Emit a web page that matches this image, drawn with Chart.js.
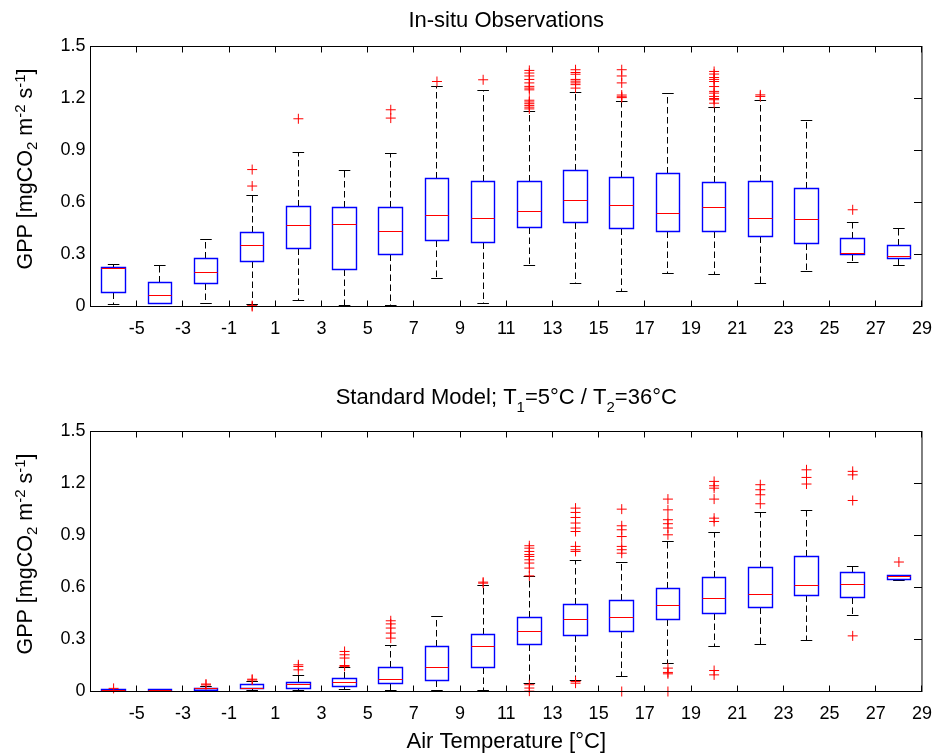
<!DOCTYPE html>
<html>
<head>
<meta charset="utf-8">
<title>GPP vs. air temperature — observations and standard model</title>
<script src="https://cdn.jsdelivr.net/npm/chart.js@4.4.1/dist/chart.umd.min.js"></script>
<style>
  html, body { margin: 0; padding: 0; background: #fff; }
  #wrap { position: relative; width: 944px; height: 755px; }
  canvas { position: absolute; left: 0; }
  #chartObs { top: 0; }
  #chartModel { top: 377px; }
</style>
</head>
<body>
<div id="wrap">
  <canvas id="chartObs" width="944" height="377"></canvas>
  <canvas id="chartModel" width="944" height="378"></canvas>
</div>
<script>
'use strict';

/* ── Data ───────────────────────────────────────────────────────── */
const temps  = [-6, -4, -2, 0, 2, 4, 6, 8, 10, 12, 14, 16, 18, 20, 22, 24, 26, 28];
const xTicks = [-5, -3, -1, 1, 3, 5, 7, 9, 11, 13, 15, 17, 19, 21, 23, 25, 27, 29];
const yTicks = [0, 0.3, 0.6, 0.9, 1.2, 1.5];

// In-situ observations
const obsLow    = [0.01, 0.018, 0.015, 0.01, 0.033, 0.003, 0.003, 0.162, 0.015, 0.239, 0.131, 0.089, 0.193, 0.187, 0.135, 0.2, 0.256, 0.237];
const obsQ1     = [0.083, 0.02, 0.135, 0.26, 0.337, 0.213, 0.302, 0.381, 0.371, 0.458, 0.485, 0.448, 0.433, 0.433, 0.406, 0.362, 0.302, 0.275];
const obsMedian = [0.22, 0.062, 0.198, 0.354, 0.467, 0.475, 0.433, 0.523, 0.51, 0.546, 0.614, 0.585, 0.537, 0.573, 0.51, 0.504, 0.308, 0.289];
const obsQ3     = [0.225, 0.14, 0.277, 0.429, 0.577, 0.573, 0.573, 0.741, 0.721, 0.721, 0.787, 0.747, 0.769, 0.717, 0.723, 0.683, 0.39, 0.352];
const obsHigh   = [0.24, 0.235, 0.385, 0.643, 0.89, 0.785, 0.885, 1.27, 1.245, 1.125, 1.235, 1.18, 1.231, 1.15, 1.187, 1.073, 0.485, 0.452];
const obsOutliers = [
  [], [], [], [0.79, 0.695, 0.005, 0], [1.083], [], [1.135, 1.087], [1.298], [1.308],
  [1.362, 1.347, 1.33, 1.31, 1.29, 1.27, 1.26, 1.25, 1.19, 1.18, 1.17, 1.16, 1.15, 1.14],
  [1.366, 1.35, 1.34, 1.31, 1.3, 1.29, 1.28, 1.26],
  [1.366, 1.33, 1.29, 1.22, 1.21, 1.205],
  [],
  [1.356, 1.341, 1.321, 1.31, 1.298, 1.269, 1.241, 1.231, 1.212, 1.2, 1.193, 1.173],
  [1.221, 1.212], [], [0.558], [],
];

// Standard model; T1 = 5 °C / T2 = 36 °C
const modLow    = [0, 0, 0.003, 0.005, 0.006, 0.01, 0.004, 0.004, 0.004, 0.048, 0.064, 0.087, 0.16, 0.258, 0.273, 0.296, 0.441, 0.639];
const modQ1     = [0.003, 0.003, 0.008, 0.016, 0.02, 0.029, 0.044, 0.062, 0.139, 0.273, 0.325, 0.344, 0.414, 0.452, 0.487, 0.556, 0.545, 0.649];
const modMedian = [0.006, 0.006, 0.015, 0.02, 0.039, 0.052, 0.071, 0.139, 0.258, 0.348, 0.414, 0.425, 0.494, 0.535, 0.562, 0.614, 0.62, 0.662];
const modQ3     = [0.01, 0.01, 0.02, 0.039, 0.052, 0.077, 0.139, 0.258, 0.331, 0.429, 0.504, 0.523, 0.597, 0.66, 0.718, 0.779, 0.689, 0.672];
const modHigh   = [0.014, 0.012, 0.03, 0.055, 0.09, 0.14, 0.268, 0.435, 0.612, 0.664, 0.758, 0.744, 0.868, 0.918, 1.035, 1.047, 0.721, 0.672];
const modOutliers = [
  [0.018], [], [0.043, 0.038], [0.071, 0.066], [0.154, 0.144, 0.125],
  [0.231, 0.212, 0.193, 0.15, 0.145],
  [0.408, 0.39, 0.366, 0.337, 0.308],
  [],
  [0.631, 0.625],
  [0.841, 0.827, 0.808, 0.79, 0.779, 0.76, 0.741, 0.712, 0.667, 0.039, 0.02, 0.002],
  [1.058, 1.033, 1.004, 0.972, 0.943, 0.923, 0.837, 0.818, 0.808, 0.058, 0.048],
  [1.052, 0.956, 0.933, 0.894, 0.837, 0.818, 0.798, 0],
  [1.11, 1.048, 0.991, 0.968, 0.943, 0.904, 0.135, 0.11, 0.102, 0],
  [1.212, 1.187, 1.173, 1.11, 1.0, 0.981, 0.121, 0.096],
  [1.193, 1.164, 1.135, 1.083],
  [1.279, 1.235, 1.197],
  [1.27, 1.25, 1.102, 0.321],
  [0.747],
];

/* ── Look ───────────────────────────────────────────────────────── */
const FONT = "'Liberation Sans', Arial, Helvetica, sans-serif";
const BOX_HALF = 0.51;  // x units
const CAP_HALF = 0.25;  // x units

Chart.defaults.font.family = FONT;
Chart.defaults.color = '#000';

function outlierPoints(lists) {
  return lists.flatMap((ys, i) => ys.map(y => ({ x: temps[i], y })));
}

// text with sub/superscripts: parts = [[text, level]], level -1 sub, 1 sup
function drawRich(ctx, parts, size, cx, baseY, drop, rise) {
  const small = Math.round(size * 0.68);
  const fontOf = lvl => `${lvl ? small : size}px ${FONT}`;
  let total = 0;
  parts.forEach(([t, lvl]) => { ctx.font = fontOf(lvl); total += ctx.measureText(t).width; });
  let xPos = cx - total / 2;
  ctx.textAlign = 'left';
  ctx.textBaseline = 'alphabetic';
  ctx.fillStyle = '#000';
  parts.forEach(([t, lvl]) => {
    ctx.font = fontOf(lvl);
    const dy = lvl < 0 ? drop : lvl > 0 ? -rise : 0;
    ctx.fillText(t, xPos, baseY + dy);
    xPos += ctx.measureText(t).width;
  });
}

/* ── Box plot drawn through the chart scales ────────────────────── */
const boxPlot = {
  id: 'boxPlot',
  beforeDatasetsDraw(chart, args, opts) {
    const { ctx, scales: { x, y } } = chart;
    const s = opts.stats;
    const snap = v => Math.floor(v) + 0.5;
    const px = temps.map(t => ({
      c: snap(x.getPixelForValue(t)),
      l: snap(x.getPixelForValue(t - BOX_HALF)),
      r: snap(x.getPixelForValue(t + BOX_HALF)),
      cl: x.getPixelForValue(t - CAP_HALF),
      cr: x.getPixelForValue(t + CAP_HALF),
    }));
    const py = key => s[key].map(v => snap(y.getPixelForValue(v)));
    const lo = py('low'), q1 = py('q1'), md = py('median'), q3 = py('q3'), hi = py('high');

    ctx.save();
    ctx.lineWidth = 1;

    // dashed whiskers
    ctx.strokeStyle = '#000';
    ctx.setLineDash([6.5, 3.5]);
    ctx.beginPath();
    px.forEach((p, i) => {
      ctx.moveTo(p.c, q3[i]); ctx.lineTo(p.c, hi[i]);
      ctx.moveTo(p.c, q1[i]); ctx.lineTo(p.c, lo[i]);
    });
    ctx.stroke();

    // whisker caps
    ctx.setLineDash([]);
    ctx.beginPath();
    px.forEach((p, i) => {
      ctx.moveTo(p.cl, hi[i]); ctx.lineTo(p.cr, hi[i]);
      ctx.moveTo(p.cl, lo[i]); ctx.lineTo(p.cr, lo[i]);
    });
    ctx.stroke();

    // boxes
    ctx.strokeStyle = '#0000ff';
    ctx.lineWidth = 1.4;
    ctx.beginPath();
    px.forEach((p, i) => ctx.rect(p.l, q3[i], p.r - p.l, q1[i] - q3[i]));
    ctx.stroke();

    // medians
    ctx.strokeStyle = '#ff0000';
    ctx.lineWidth = 1.2;
    ctx.beginPath();
    px.forEach((p, i) => { ctx.moveTo(p.l, md[i]); ctx.lineTo(p.r, md[i]); });
    ctx.stroke();
    ctx.restore();
  },
};

/* ── Axes box, inward ticks, titles ─────────────────────────────── */
const frame = {
  id: 'frame',
  afterDraw(chart, args, opts) {
    const { ctx, chartArea: a, scales: { x, y } } = chart;
    const snap = v => Math.floor(v) + 0.5;
    ctx.save();
    ctx.strokeStyle = '#000';
    ctx.lineWidth = 1;
    ctx.strokeRect(a.left, a.top, a.right - a.left, a.bottom - a.top);
    ctx.beginPath();
    xTicks.forEach(v => {
      const px = snap(x.getPixelForValue(v));
      ctx.moveTo(px, a.bottom); ctx.lineTo(px, a.bottom - 6);
      ctx.moveTo(px, a.top); ctx.lineTo(px, a.top + 6);
    });
    yTicks.forEach(v => {
      const py = snap(y.getPixelForValue(v));
      ctx.moveTo(a.right, py); ctx.lineTo(a.right - 8, py);
    });
    ctx.stroke();

    // title
    drawRich(ctx, opts.title, 22, (a.left + a.right) / 2, opts.titleBaseline, 8, 8);

    // y label, rotated
    ctx.translate(32, (a.top + a.bottom) / 2 - 7.5);
    ctx.rotate(-Math.PI / 2);
    drawRich(ctx, [
      ['GPP [mgCO', 0], ['2', -1], [' m', 0], ['-2', 1], [' s', 0], ['-1', 1], [']', 0],
    ], 21.5, 0, 0, 5, 7);
    ctx.restore();
  },
};

function makeChart(id, stats, outliers, opts) {
  return new Chart(document.getElementById(id), {
    type: 'scatter',
    data: {
      datasets: [{
        data: outlierPoints(outliers),
        pointStyle: 'cross',
        pointRadius: 5,
        pointHoverRadius: 5,
        borderColor: '#ff0000',
        backgroundColor: '#ff0000',
        borderWidth: 1,
        clip: false,
      }],
    },
    options: {
      responsive: false,
      animation: false,
      events: [],
      layout: { padding: { top: opts.top, right: 13.5, left: 0, bottom: 0 } },
      plugins: {
        legend: { display: false },
        tooltip: { enabled: false },
        boxPlot: { stats },
        frame: { title: opts.title, titleBaseline: opts.titleBaseline },
      },
      scales: {
        x: {
          type: 'linear',
          min: -7,
          max: 29,
          afterBuildTicks: s => { s.ticks = xTicks.map(v => ({ value: v })); },
          afterFit: s => { s.height = opts.xHeight; },
          grid: { display: false, drawTicks: false },
          border: { display: false },
          ticks: {
            autoSkip: false,
            maxRotation: 0,
            padding: 12,
            font: { size: 18 },
            color: '#000',
            callback: v => String(v),
          },
          title: {
            display: !!opts.xTitle,
            text: opts.xTitle || '',
            font: { size: 22 },
            color: '#000',
            padding: { top: 0, bottom: 0 },
          },
        },
        y: {
          min: 0,
          max: 1.5,
          afterBuildTicks: s => { s.ticks = yTicks.map(v => ({ value: v })); },
          afterFit: s => { s.width = 90.5; },
          grid: { display: false, drawTicks: false },
          border: { display: false },
          ticks: {
            padding: 5,
            font: { size: 18 },
            color: '#000',
            callback: v => (v === 0 ? '0' : v.toFixed(1)),
          },
        },
      },
    },
    plugins: [boxPlot, frame],
  });
}

makeChart('chartObs',
  { low: obsLow, q1: obsQ1, median: obsMedian, q3: obsQ3, high: obsHigh },
  obsOutliers,
  { top: 46.5, xHeight: 70.5, title: [['In-situ Observations', 0]], titleBaseline: 27 });

makeChart('chartModel',
  { low: modLow, q1: modQ1, median: modMedian, q3: modQ3, high: modHigh },
  modOutliers,
  {
    top: 54.5, xHeight: 63.5, xTitle: 'Air Temperature [°C]',
    title: [['Standard Model; T', 0], ['1', -1], ['=5°C / T', 0], ['2', -1], ['=36°C', 0]],
    titleBaseline: 27.3,
  });
</script>
</body>
</html>
